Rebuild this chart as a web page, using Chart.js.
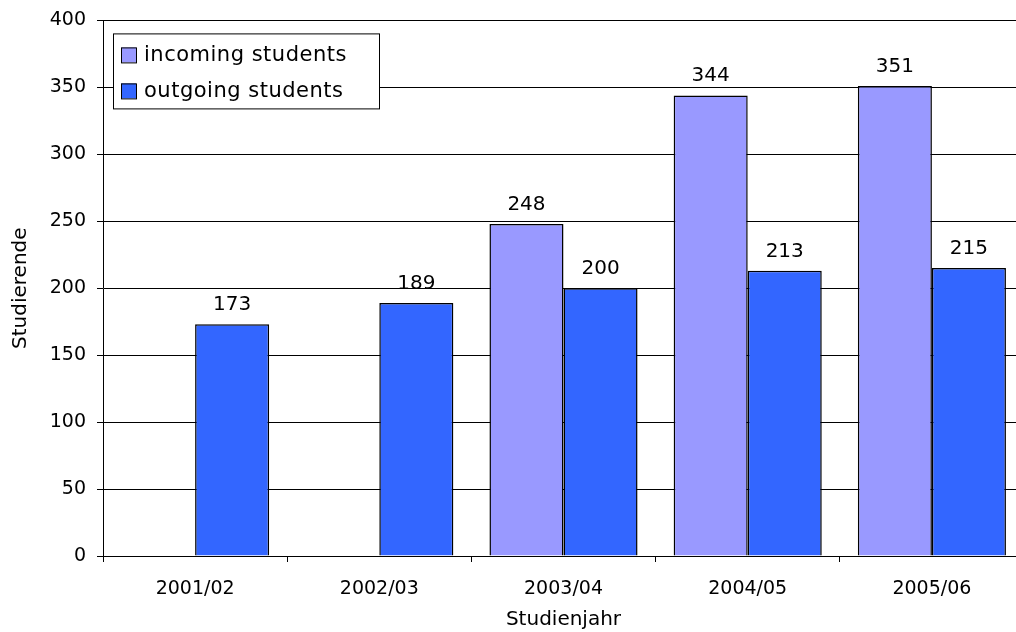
<!DOCTYPE html>
<html>
<head>
<meta charset="utf-8">
<script src="https://cdn.jsdelivr.net/npm/chart.js@4"></script>
<style>
  html, body { margin: 0; padding: 0; background: #fff; overflow: hidden; }
  #wrap { width: 1024px; height: 634px; margin-top: -2px; }
</style>
</head>
<body>
<div id="wrap"><canvas id="studentsChart"></canvas></div>
<script>
const years = ["2001/02", "2002/03", "2003/04", "2004/05", "2005/06"];
const incoming = [null, null, 248, 344, 351];
const outgoing = [173, 189, 200, 213, 215];
const yTicks = [0, 50, 100, 150, 200, 250, 300, 350, 400];

const fontFamily = "'DejaVu Sans', sans-serif";

// numbers above the bars
const valueLabels = {
  id: 'valueLabels',
  afterDatasetsDraw(chart) {
    const ctx = chart.ctx;
    ctx.save();
    ctx.font = `20px ${fontFamily}`;
    ctx.fillStyle = '#000';
    ctx.textAlign = 'center';
    ctx.textBaseline = 'alphabetic';
    chart.data.datasets.forEach((ds, i) => {
      chart.getDatasetMeta(i).data.forEach((bar, j) => {
        if (ds.data[j] == null) return;
        ctx.fillText(ds.data[j], bar.x, bar.y - 14);
      });
    });
    ctx.restore();
  }
};

// boxed legend in the top-left corner of the plot
const boxLegend = {
  id: 'boxLegend',
  afterDraw(chart) {
    const ctx = chart.ctx;
    const area = chart.chartArea;
    const left = area.left + 10, top = area.top + 13;
    const w = 266, h = 75;
    ctx.save();
    ctx.fillStyle = '#fff';
    ctx.fillRect(left, top, w, h);
    ctx.strokeStyle = '#000';
    ctx.lineWidth = 1;
    ctx.strokeRect(left + 0.5, top + 0.5, w, h);
    ctx.font = `21px ${fontFamily}`;
    ctx.letterSpacing = '0.5px';
    ctx.textBaseline = 'middle';
    ctx.textAlign = 'left';
    chart.data.datasets.forEach((ds, i) => {
      const cy = top + 22 + i * 36;
      ctx.fillStyle = ds.backgroundColor;
      ctx.fillRect(left + 8, cy - 8, 15, 15);
      ctx.strokeRect(left + 8.5, cy - 7.5, 15, 15);
      ctx.fillStyle = '#000';
      ctx.fillText(ds.label, left + 31, cy);
    });
    ctx.restore();
  }
};

const chartBlock = document.querySelector('#studentsChart').getContext('2d');

new Chart(chartBlock, {
  type: 'bar',
  data: {
    labels: years,
    datasets: [
      {
        label: 'incoming students',
        data: incoming,
        backgroundColor: '#9999FF',
        borderColor: '#000',
        borderWidth: 1.5,
        borderSkipped: 'bottom'
      },
      {
        label: 'outgoing students',
        data: outgoing,
        backgroundColor: '#3366FF',
        borderColor: '#000',
        borderWidth: 1.5,
        borderSkipped: 'bottom'
      }
    ]
  },
  options: {
    responsive: true,
    maintainAspectRatio: false,
    animation: false,
    datasets: {
      bar: { categoryPercentage: 0.804, barPercentage: 1 }
    },
    layout: { padding: { top: 17, right: 0, left: 0, bottom: 0 } },
    plugins: {
      legend: { display: false },
      tooltip: { enabled: false }
    },
    scales: {
      x: {
        afterFit: (scale) => { scale.height = 76; },
        grid: {
          offset: true,
          drawOnChartArea: false,
          drawTicks: true,
          tickLength: 6,
          color: '#000'
        },
        border: { color: '#000', width: 1 },
        ticks: {
          color: '#000',
          font: { family: fontFamily, size: 19 },
          padding: 16
        },
        title: {
          display: true,
          text: 'Studienjahr',
          color: '#000',
          font: { family: fontFamily, size: 20 },
          padding: { top: 2, bottom: 0 }
        }
      },
      y: {
        min: 0,
        max: 400,
        afterFit: (scale) => { scale.width = 103; },
        afterBuildTicks: (scale) => { scale.ticks = yTicks.map(v => ({ value: v })); },
        grid: {
          color: '#000',
          lineWidth: 1,
          drawTicks: true,
          tickLength: 6
        },
        border: { color: '#000', width: 1 },
        ticks: {
          color: '#000',
          font: { family: fontFamily, size: 19 },
          padding: 11
        },
        title: {
          display: true,
          text: 'Studierende',
          color: '#000',
          font: { family: fontFamily, size: 20 },
          padding: { top: 9, bottom: 0 }
        }
      }
    }
  },
  plugins: [valueLabels, boxLegend]
});
</script>
</body>
</html>
